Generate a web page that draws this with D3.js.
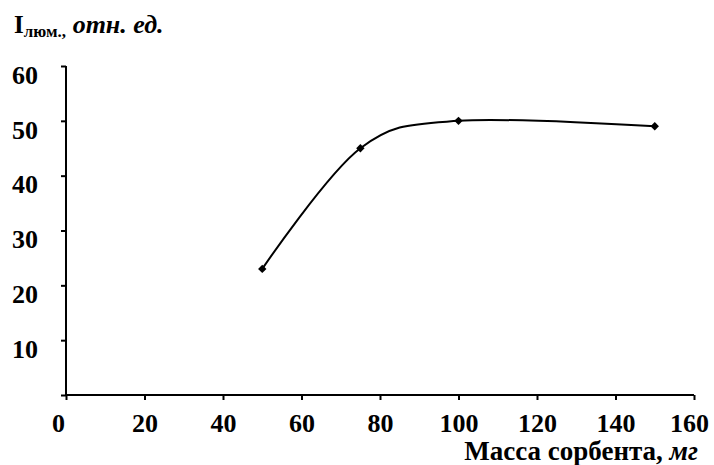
<!DOCTYPE html>
<html>
<head>
<meta charset="utf-8">
<script src="https://cdn.jsdelivr.net/npm/d3@7"></script>
<style>
  body { margin: 0; background: #fff; }
  text { font-family: "Liberation Serif", "Times New Roman", serif; font-weight: bold; }
</style>
</head>
<body>
<div id="chart"></div>
<script>
// data
var massValues = [50, 75, 100, 150];
var lumValues = [23, 45, 50, 49];
var xTicks = [0, 20, 40, 60, 80, 100, 120, 140, 160];
var yTicks = [0, 10, 20, 30, 40, 50, 60];

var margin = {top: 66, right: 20, bottom: 70, left: 66},
    width = 694 - margin.left,
    height = 395 - margin.top;

var svg = d3.select("#chart")
    .append("svg")
    .attr("width", 714)
    .attr("height", 465)
    .append("g")
    .attr("transform", "translate(" + margin.left + "," + margin.top + ")");

var x = d3.scaleLinear().domain([0, 160]).range([0, width]);
var y = d3.scaleLinear().domain([0, 60]).range([height, 0]);

// X axis (Excel nudges the end labels inwards a bit)
var xAxis = svg.append("g")
    .attr("transform", "translate(0," + height + ")")
    .call(d3.axisBottom(x).tickValues(xTicks).tickSize(5).tickPadding(14).tickSizeOuter(0));
xAxis.selectAll("text")
    .attr("font-size", 26).attr("font-family", null).attr("fill", "#000")
    .attr("dx", function(d) { return d == 0 ? -8 : (d == 160 ? -5 : 0); });
xAxis.select(".domain").attr("d", "M0,0H" + width);

// Y axis, labels sit a bit below their ticks
var yAxis = svg.append("g")
    .call(d3.axisLeft(y).tickValues(yTicks).tickSize(5).tickPadding(23).tickSizeOuter(0)
      .tickFormat(function(d) { return d == 0 ? "" : d; }));
yAxis.selectAll("text")
    .attr("font-size", 26).attr("font-family", null).attr("fill", "#000")
    .attr("y", 9);
yAxis.select(".domain").attr("d", "M0,0V" + height);

svg.selectAll(".domain").attr("stroke", "#000").attr("stroke-width", 2);
svg.selectAll(".tick line").attr("stroke", "#000").attr("stroke-width", 2);

// the curve
var pts = massValues.map(function(m, i) { return [m, lumValues[i]]; });
var line = d3.line()
    .x(function(d) { return x(d[0]); })
    .y(function(d) { return y(d[1]); })
    .curve(d3.curveCardinal.tension(0));

svg.append("path")
    .datum(pts)
    .attr("fill", "none")
    .attr("stroke", "#000")
    .attr("stroke-width", 2)
    .attr("d", line);

svg.selectAll(".pt")
    .data(pts)
    .enter()
    .append("path")
    .attr("class", "pt")
    .attr("d", d3.symbol().type(d3.symbolDiamond2).size(45))
    .attr("transform", function(d) { return "translate(" + x(d[0]) + "," + y(d[1]) + ")"; })
    .attr("fill", "#000");

// axis titles
var yTitle = d3.select("svg").append("text")
    .attr("x", 14)
    .attr("y", 33)
    .attr("font-size", 25);
yTitle.append("tspan").text("I");
yTitle.append("tspan").attr("font-size", 17).attr("dy", 4).text("люм.,");
yTitle.append("tspan").attr("dy", -4).attr("font-size", 26).attr("font-style", "italic").text(" отн. ед.");

var xTitle = d3.select("svg").append("text")
    .attr("x", 698)
    .attr("y", 460)
    .attr("text-anchor", "end")
    .attr("font-size", 27);
xTitle.append("tspan").text("Масса сорбента, ");
xTitle.append("tspan").attr("font-style", "italic").text("мг");
</script>
</body>
</html>
